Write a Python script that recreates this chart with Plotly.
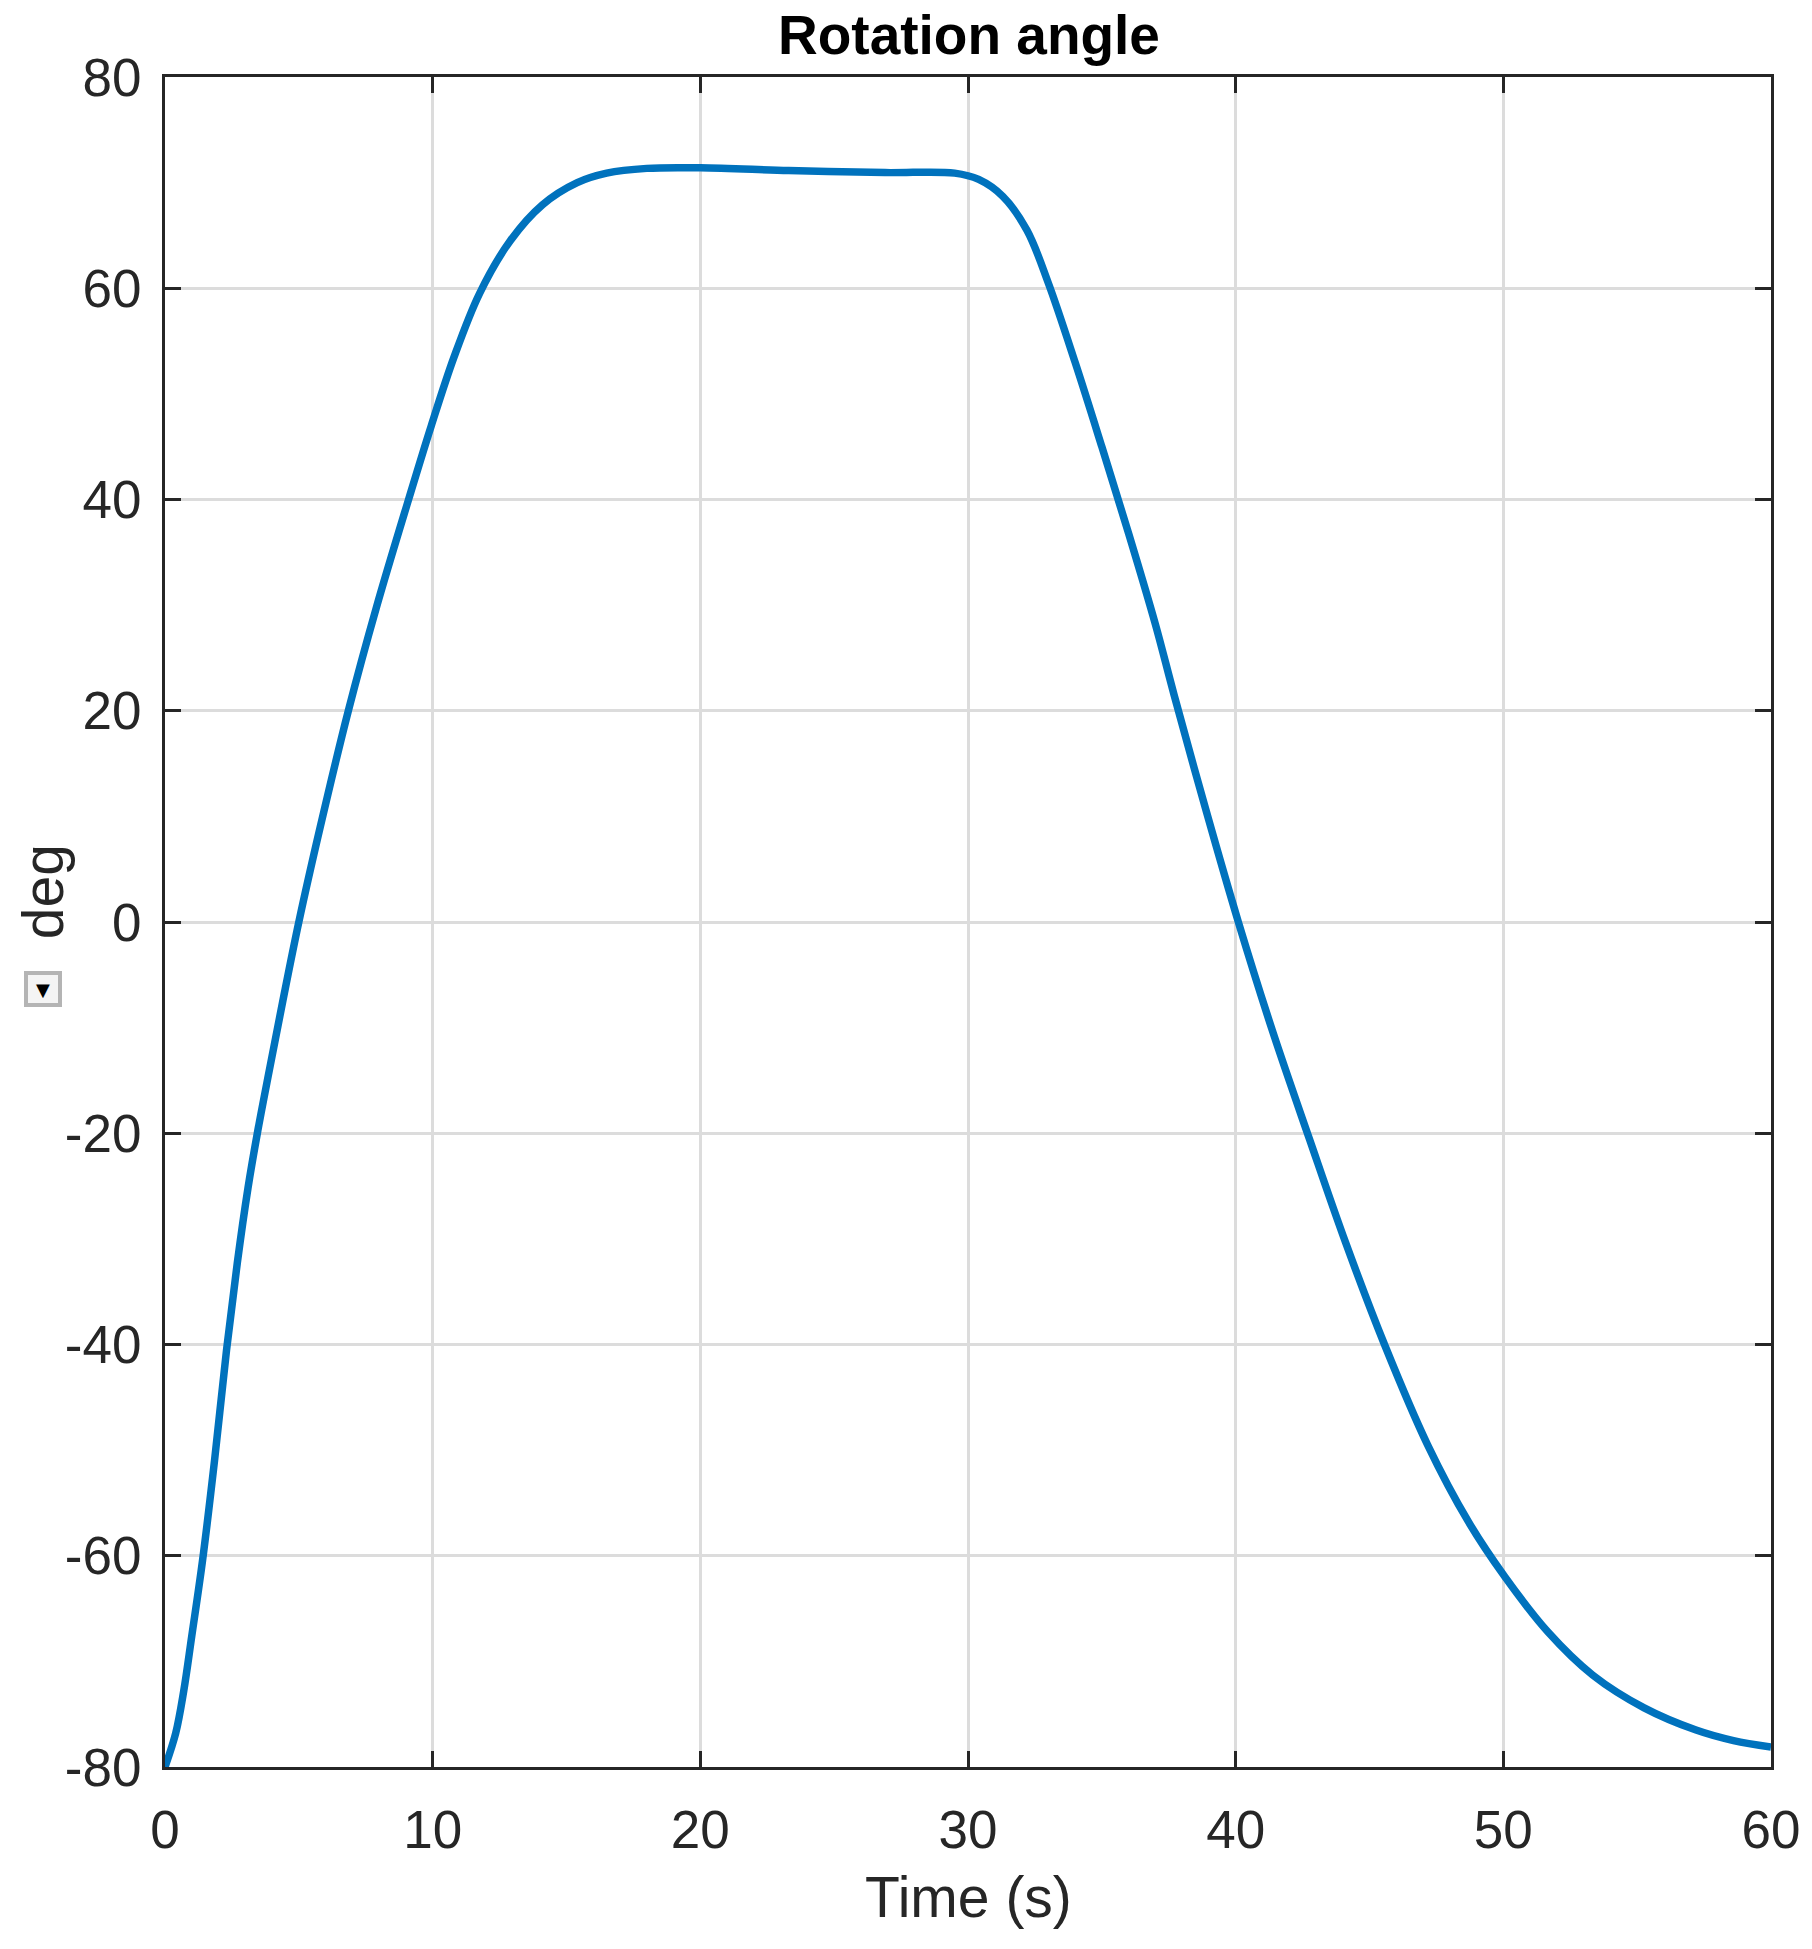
import plotly.graph_objects as go

# Data
time_s = [0, 0.4, 0.7, 1.0, 1.4, 1.85, 2.3, 2.7, 3.1, 3.45, 3.9, 4.4, 5.0, 5.8, 6.85,
          7.9, 9.1, 9.95, 10.8, 11.75, 12.9, 14.1, 15.4, 16.5, 18.0, 20.0, 23.3, 26.9,
          29.5, 30.4, 31.3, 32.2, 33.0, 34.0, 35.0, 36.0, 37.0, 37.7, 38.9, 40.1, 41.4,
          42.75, 44.1, 45.56, 47.17, 48.7, 50.06, 51.66, 53.34, 55.26, 57.2, 58.6, 60.0]
angle_deg = [-80, -76.8, -72.8, -67.6, -60.5, -51, -40.5, -32.3, -25.2, -20, -14, -7.5, 0, 9, 20,
             29.8, 40, 47, 53.5, 59.5, 64.5, 67.9, 70.0, 70.9, 71.35, 71.4, 71.15, 70.95,
             70.9, 70.3, 68.7, 65.5, 60.5, 53, 45, 36.8, 28.2, 21.5, 10.5, 0, -10.5,
             -20.5, -30.3, -40, -49.5, -56.8, -62, -67.2, -71.3, -74.4, -76.5, -77.5, -78.1]

x_ticks = [0, 10, 20, 30, 40, 50, 60]
y_ticks = [-80, -60, -40, -20, 0, 20, 40, 60, 80]
y_tick_text = ["-80", "-60", "-40", "-20", "0", "20", "40", "60", "80"]

title_text = "Rotation angle"
x_label = "Time (s)"
y_label = "deg"

W, H = 1812, 1949
px_left, px_right, px_top, px_bottom = 165, 1773, 77, 1767
L, R, T, B = px_left, W - px_right, px_top, H - px_bottom
FONT = "Liberation Sans, Arial, Helvetica, sans-serif"
AX = "#262626"
GRID = "#dcdcdc"

fig = go.Figure()
fig.add_trace(go.Scatter(x=time_s, y=angle_deg, mode="lines",
                         line=dict(color="#0072BD", width=7.5, shape="spline", smoothing=1.0),
                         showlegend=False, hoverinfo="x+y"))

axis_common = dict(showline=True, linecolor=AX, linewidth=3, mirror="ticks",
                   ticks="inside", ticklen=16, tickwidth=3, tickcolor=AX,
                   showgrid=True, gridcolor=GRID, gridwidth=2.5, zeroline=False,
                   tickfont=dict(family=FONT, size=53, color=AX))

fig.update_xaxes(range=[0, 60], tickvals=x_ticks, ticklabelstandoff=14, **axis_common)
fig.update_yaxes(range=[-80, 80], tickvals=y_ticks, ticktext=y_tick_text,
                 ticklabelstandoff=10, **axis_common)

pw = W - L - R
ph = H - T - B


def py(screen_y):
    return (px_bottom - screen_y) / ph


def pxx(screen_x):
    return (screen_x - px_left) / pw


fig.update_layout(
    width=W, height=H,
    margin=dict(l=L, r=R, t=T, b=B, pad=0),
    plot_bgcolor="white", paper_bgcolor="white",
    title=dict(text="<b>" + title_text + "</b>", x=(L + pw / 2) / W, xanchor="center",
               y=1 - 35 / H, yanchor="middle",
               font=dict(family=FONT, size=55, color="black")),
    annotations=[
        dict(text=x_label, xref="paper", yref="paper", x=0.5, y=py(1897),
             xanchor="center", yanchor="middle", showarrow=False,
             font=dict(family=FONT, size=57, color=AX)),
        dict(text=y_label, xref="paper", yref="paper", x=pxx(43), y=py(892),
             xanchor="center", yanchor="middle", showarrow=False, textangle=-90,
             font=dict(family=FONT, size=57, color=AX)),
        dict(text="▼", xref="paper", yref="paper", x=pxx(43), y=py(989),
             xanchor="center", yanchor="middle", showarrow=False,
             width=28, height=26, borderwidth=4, bordercolor="#b4b4b4", bgcolor="#f4f4f4",
             borderpad=1, font=dict(family="DejaVu Sans", size=18, color="black")),
    ],
)

fig.write_html("out.html", config={"displayModeBar": False},
               post_script="document.body.style.margin='0px';document.body.style.overflow='hidden';")
